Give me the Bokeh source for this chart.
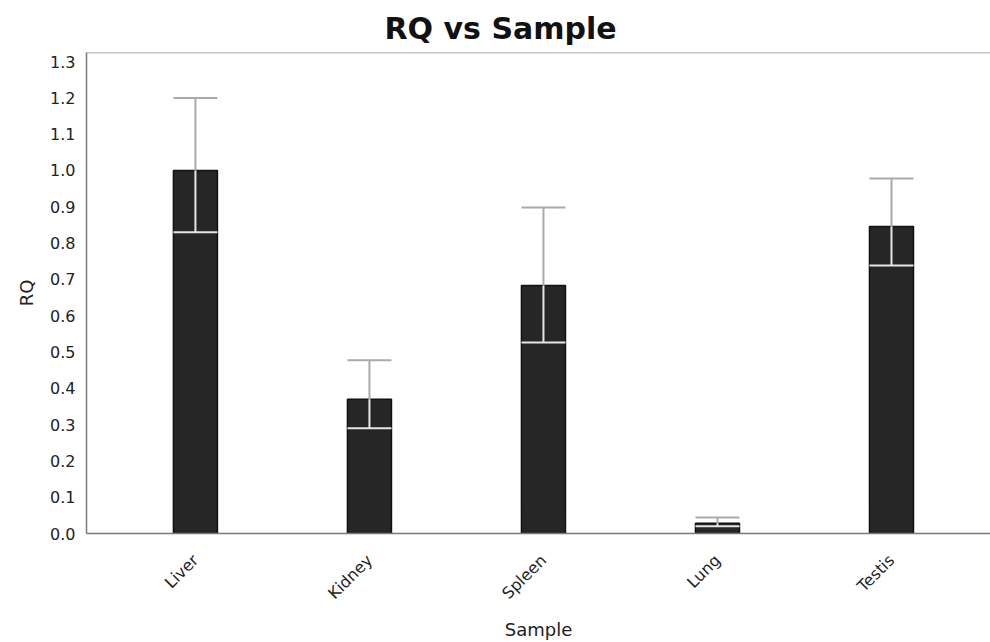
from math import pi
from bokeh.plotting import figure
from bokeh.models import Range1d, FixedTicker, PrintfTickFormatter, Span, ColumnDataSource, Title
from bokeh.embed import file_html
from bokeh.resources import INLINE

samples = ["Liver", "Kidney", "Spleen", "Lung", "Testis"]
rq = [1.0, 0.37, 0.683, 0.028, 0.846]
rq_min = [0.83, 0.29, 0.526, 0.02, 0.738]
rq_max = [1.2, 0.477, 0.898, 0.044, 0.978]
y_ticks = [0.0, 0.1, 0.2, 0.3, 0.4, 0.5, 0.6, 0.7, 0.8, 0.9, 1.0, 1.1, 1.2, 1.3]

xs = list(range(len(samples)))
bar_w = 0.253
src = ColumnDataSource(dict(
    x=xs, top=rq, lo=rq_min, hi=rq_max,
    x0=[x - bar_w / 2 for x in xs], x1=[x + bar_w / 2 for x in xs],
))

FONT = "DejaVu Sans"
p = figure(width=990, height=642, output_backend="svg", toolbar_location=None,
           x_range=Range1d(-0.626, 4.569), y_range=Range1d(0, 1.325),
           min_border_left=86, min_border_right=0, min_border_top=52, min_border_bottom=109)
p.title = Title(text="RQ vs Sample", text_font=FONT, text_font_size="30px",
                text_font_style="bold", text_color="#111111", align="left", offset=298, standoff=14)
p.outline_line_color = None
p.xgrid.visible = False
p.ygrid.visible = False
p.background_fill_color = "white"
p.border_fill_color = "white"

p.vbar(x="x", top="top", bottom=0, width=bar_w, source=src,
       fill_color="#262626", line_color="#111111", line_width=1.5)
# upper whisker (grey)
p.segment(x0="x", y0="top", x1="x", y1="hi", source=src, line_color="#aaaaaa", line_width=2)
p.segment(x0="x0", y0="hi", x1="x1", y1="hi", source=src, line_color="#aaaaaa", line_width=2)
# lower whisker (white, inside bar)
p.segment(x0="x", y0="lo", x1="x", y1="top", source=src, line_color="#e6e6e6", line_width=2)
p.segment(x0="x0", y0="lo", x1="x1", y1="lo", source=src, line_color="#e6e6e6", line_width=2)

p.add_layout(Span(location=1.325, dimension="width", line_color="#8a8a8a", line_width=1.5))

p.xaxis.ticker = FixedTicker(ticks=xs)
p.xaxis.major_label_overrides = {i: s for i, s in zip(xs, samples)}
p.xaxis.major_label_orientation = pi / 4
p.yaxis.ticker = FixedTicker(ticks=y_ticks)
p.yaxis.formatter = PrintfTickFormatter(format="%.1f")
p.xaxis.axis_label = "Sample"
p.yaxis.axis_label = "RQ"

for ax in (p.xaxis, p.yaxis):
    ax.axis_line_color = "#7a7a7a"
    ax.axis_line_width = 1.5
    ax.major_tick_line_color = None
    ax.minor_tick_line_color = None
    ax.major_tick_out = 0
    ax.major_tick_in = 0
    ax.major_label_text_font = FONT
    ax.major_label_text_color = "#222222"
    ax.axis_label_text_font = FONT
    ax.axis_label_text_font_style = "normal"
    ax.axis_label_text_color = "#222222"
    ax.axis_label_text_font_size = "18px"

p.yaxis.major_label_text_font_size = "16px"
p.yaxis.major_label_standoff = 11
p.yaxis.axis_label_standoff = 10
p.xaxis.major_label_text_font_size = "16px"
p.xaxis.major_label_standoff = 24
p.xaxis.axis_label_standoff = 6

open("out.html", "w").write(file_html(p, INLINE))
